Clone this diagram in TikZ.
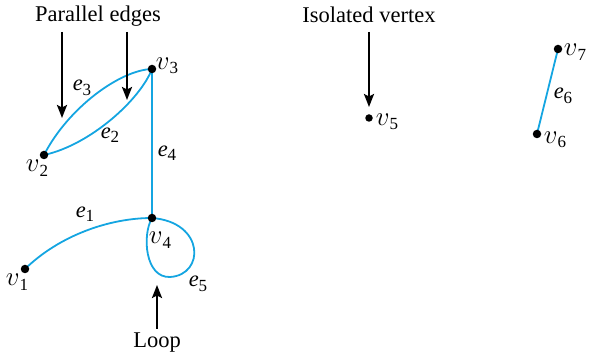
\documentclass[tikz,border=0pt]{standalone}
\usepackage{graphicx}
\usepackage{fontspec}
\setmainfont{Liberation Serif}
\usetikzlibrary{arrows.meta}
\definecolor{edgeblue}{RGB}{20,165,225}
\pgfdeclarelayer{bg}
\pgfsetlayers{bg,main}
\newcommand\lbl[2]{#1\raisebox{-4.5pt}{\fontsize{17}{18}\selectfont #2}}
\newcommand\vv{\scalebox{1.3}{$v$}}
\newcommand\ee{\textit{e}}
\tikzset{
  vtx/.style={circle,fill=black,inner sep=0pt,minimum size=8.5pt},
  edge/.style={draw=edgeblue,line width=1.8pt},
  txt/.style={inner sep=0pt,font=\fontsize{22.5}{26}\selectfont},
  pointer/.style={draw=black,line width=2.2pt,-{Stealth[length=13pt,width=10pt,inset=2.5pt]}}
}
\begin{document}
\begin{tikzpicture}[x=1pt,y=-1pt]
\useasboundingbox (0,0) rectangle (590,355);
% vertices
\node[vtx] (v1) at (25,269) {};
\node[vtx] (v2) at (44,155) {};
\node[vtx] (v3) at (152,69) {};
\node[vtx] (v4) at (152,218) {};
\node[vtx,minimum size=7.5pt] (v5) at (369,118) {};
\node[vtx] (v6) at (537,134) {};
\node[vtx] (v7) at (558,49) {};
% edges
\begin{pgfonlayer}{bg}
\path[edge] (v2.center) .. controls (68,108) and (120,70) .. (v3.center);
\path[edge] (v2.center) .. controls (90,145) and (140,100) .. (v3.center);
\path[edge] (v3.center) -- (v4.center);
\path[edge] (v1.center) .. controls (60,235) and (110,218) .. (v4.center);
\path[edge] (v4.center) .. controls (205,222) and (205,275) .. (170,277)
   .. controls (145,278) and (142,235) .. (v4.center);
\path[edge] (v6.center) -- (v7.center);
\end{pgfonlayer}
% vertex labels
\node[txt] (lv1) at (17,282) {\lbl{\vv}{1}};
\node[txt] (lv2) at (37,168) {\lbl{\vv}{2}};
\node[txt] (lv3) at (167,66) {\lbl{\vv}{3}};
\node[txt] (lv4) at (160,240) {\lbl{\vv}{4}};
\node[txt] (lv5) at (387,122) {\lbl{\vv}{5}};
\node[txt] (lv6) at (555,140) {\lbl{\vv}{6}};
\node[txt] (lv7) at (575,52) {\lbl{\vv}{7}};
% edge labels
\node[txt] (le1) at (85,214) {\lbl{\ee}{1}};
\node[txt] (le2) at (110,135) {\lbl{\ee}{2}};
\node[txt] (le3) at (82,88) {\lbl{\ee}{3}};
\node[txt] (le4) at (167,153) {\lbl{\ee}{4}};
\node[txt] (le5) at (198,284) {\lbl{\ee}{5}};
\node[txt] (le6) at (563,96) {\lbl{\ee}{6}};
% annotations
\node[txt] (par) at (98,16) {Parallel edges};
\node[txt] (iso) at (369,15) {Isolated vertex};
\node[txt] (loop) at (157,343) {Loop};
\coordinate (pa1s) at (62,32);
\coordinate (pa1e) at (62,118);
\coordinate (pa2s) at (127,32);
\coordinate (pa2e) at (127,100);
\coordinate (isos) at (369,32);
\coordinate (isoe) at (369,107);
\coordinate (loops) at (157,329);
\coordinate (loope) at (157,285);
\draw[pointer] (pa1s) -- (pa1e);
\draw[pointer] (pa2s) -- (pa2e);
\draw[pointer] (isos) -- (isoe);
\draw[pointer] (loops) -- (loope);
\end{tikzpicture}
\end{document}
